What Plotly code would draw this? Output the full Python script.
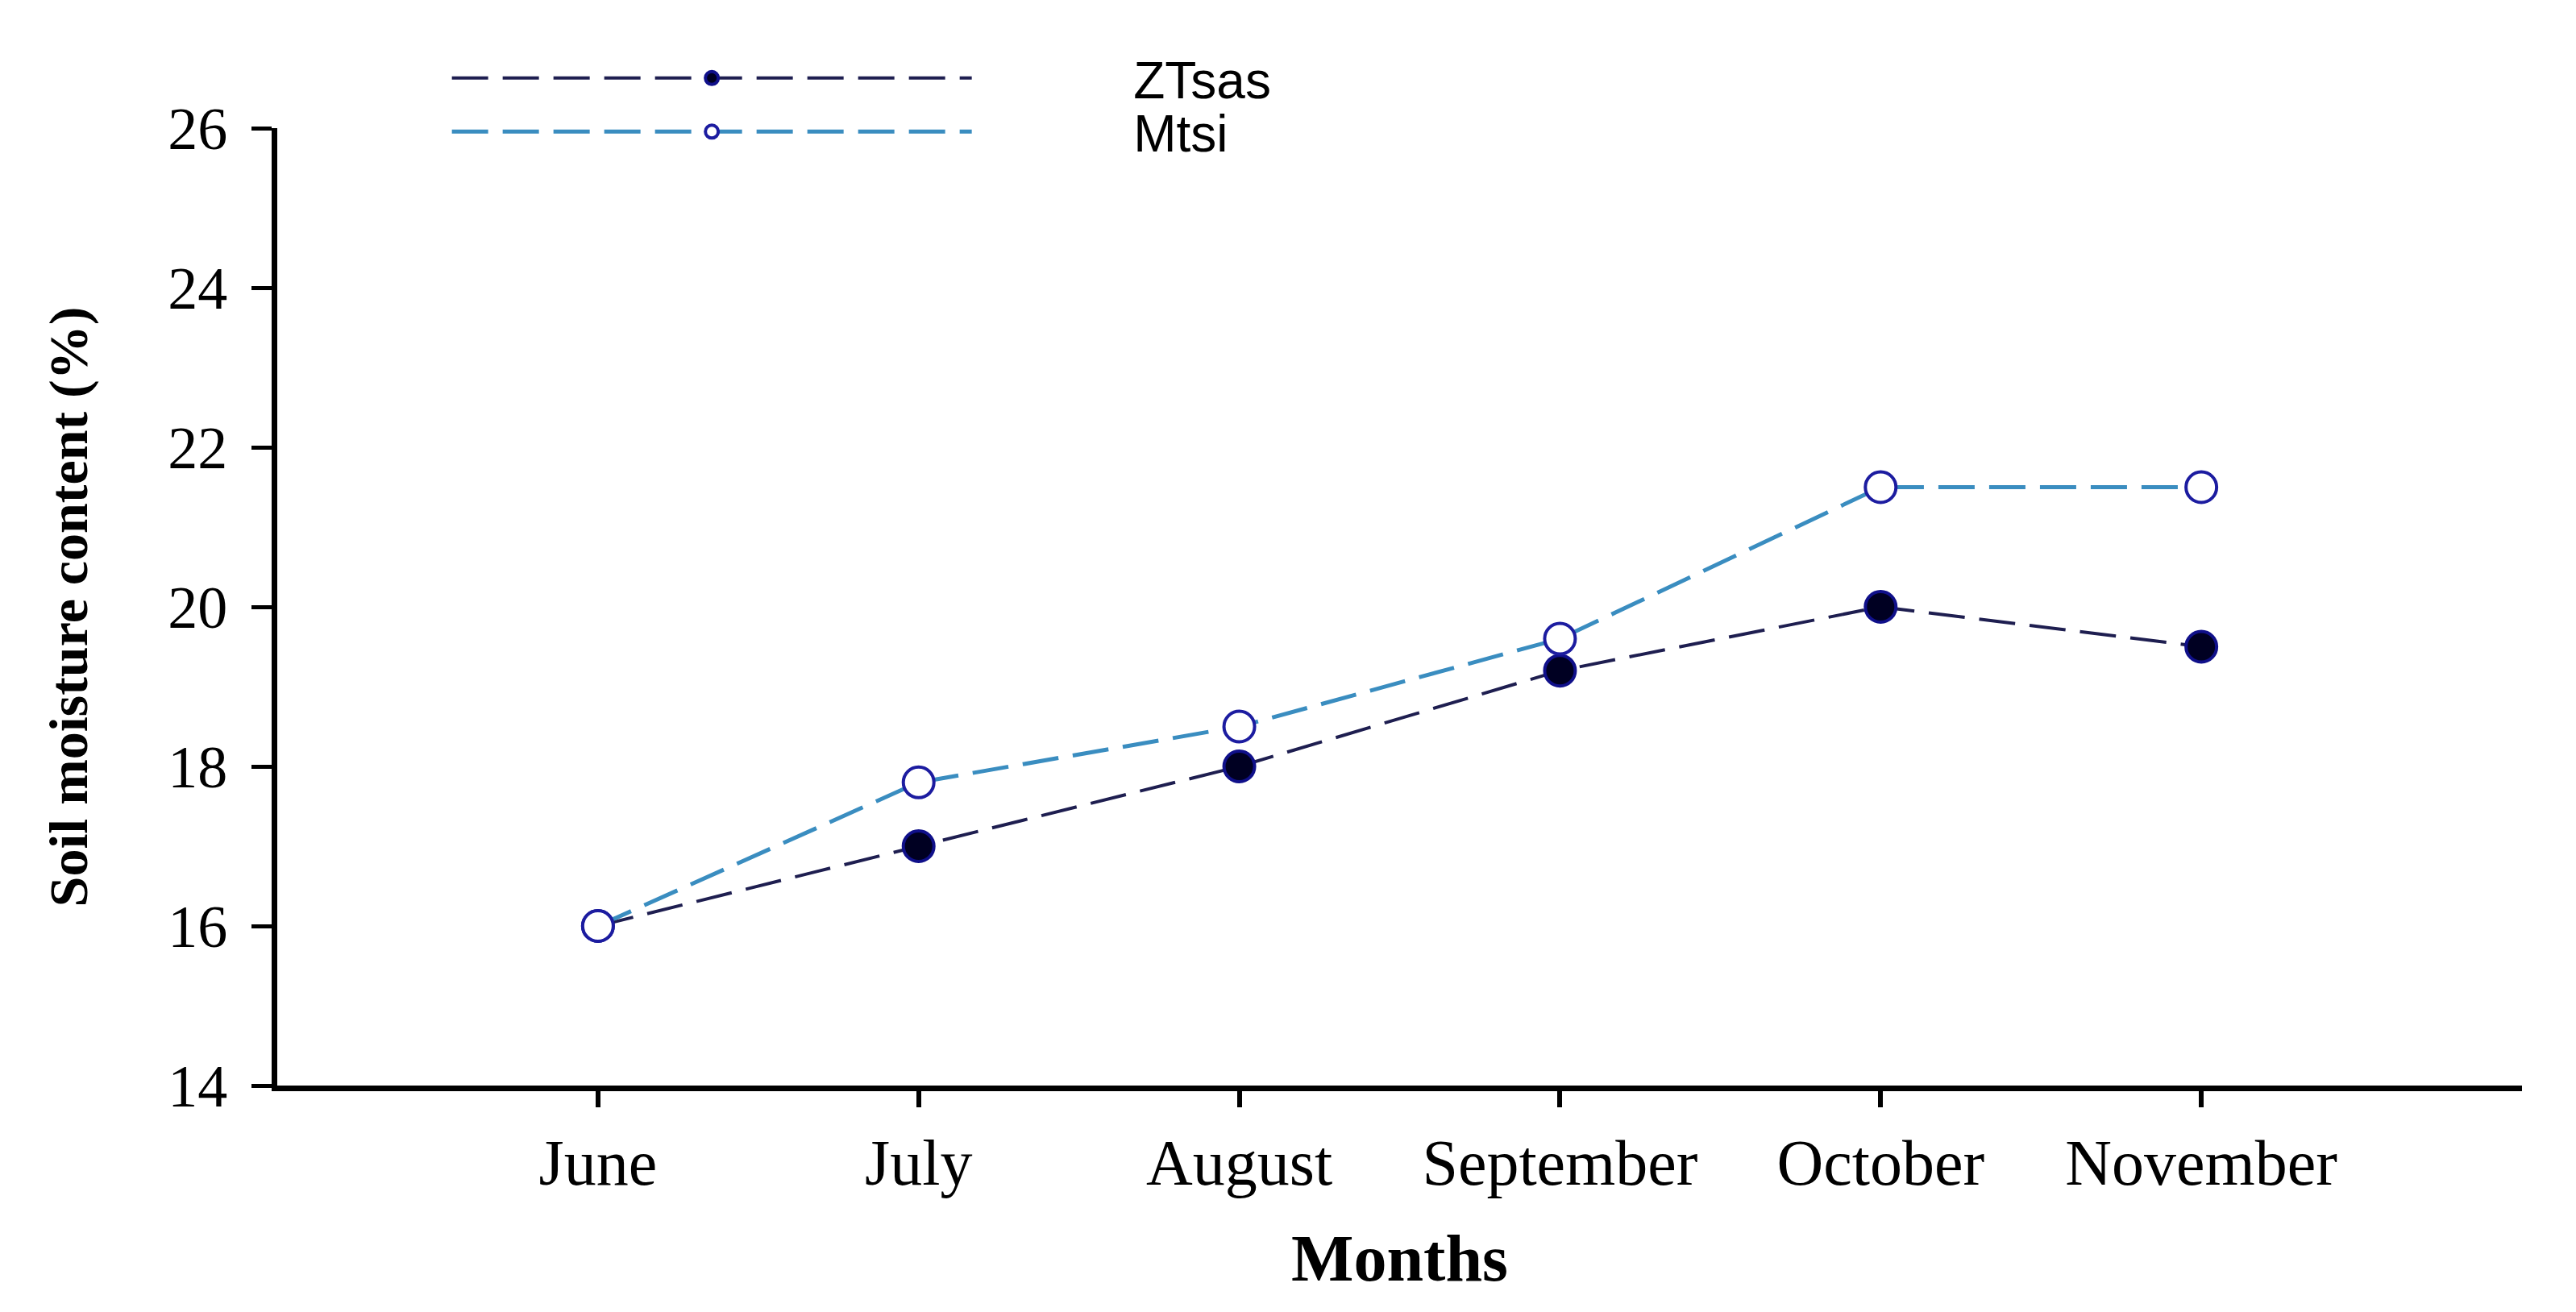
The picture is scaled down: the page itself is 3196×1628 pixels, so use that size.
import plotly.graph_objects as go

months = ["June", "July", "August", "September", "October", "November"]
ztsas = [16.0, 17.0, 18.0, 19.2, 20.0, 19.5]
mtsi = [16.0, 17.8, 18.5, 19.6, 21.5, 21.5]
y_ticks = [14, 16, 18, 20, 22, 24, 26]

pad = "\u00a0" * 11

fig = go.Figure()
fig.add_trace(go.Scatter(
    x=months, y=ztsas, name=pad + "ZTsas", mode="lines+markers",
    legend="legend",
    line=dict(color="#1e1e50", width=4, dash="45px,18px"),
    marker=dict(symbol="circle", size=38, color="#000022",
                line=dict(color="#10108a", width=4)),
))
fig.add_trace(go.Scatter(
    x=months, y=mtsi, name=pad + "Mtsi", mode="lines+markers",
    legend="legend2",
    line=dict(color="#3a8dc0", width=5, dash="45px,18px"),
    marker=dict(symbol="circle", size=38, color="white",
                line=dict(color="#1c1ca0", width=4)),
))

leg_common = dict(
    xanchor="left", yanchor="middle",
    font=dict(family="Liberation Sans", size=64, color="black"),
    itemwidth=645, bgcolor="rgba(0,0,0,0)",
)

fig.update_layout(
    width=3196, height=1628,
    margin=dict(l=336, r=75, t=151, b=289),
    paper_bgcolor="white", plot_bgcolor="white",
    showlegend=True,
    legend=dict(x=0.076, y=1.052, **leg_common),
    legend2=dict(x=0.076, y=0.996, **leg_common),
    xaxis=dict(
        type="category", range=[-1, 6],
        showline=True, linecolor="black", linewidth=7,
        ticks="outside", ticklen=20, tickwidth=6, tickcolor="black",
        showgrid=False, zeroline=False,
        tickfont=dict(family="Liberation Serif", size=80, color="black"),
        ticklabelstandoff=0,
        title=dict(text="<b>Months</b>", standoff=48,
                   font=dict(family="Liberation Serif", size=82, color="black")),
    ),
    yaxis=dict(
        range=[14, 26], tickvals=y_ticks,
        showline=True, linecolor="black", linewidth=7,
        ticks="outside", ticklen=25, tickwidth=5, tickcolor="black",
        showgrid=False, zeroline=False,
        tickfont=dict(family="Liberation Serif", size=74, color="black"),
        ticklabelstandoff=15,
        title=dict(text="<b>Soil moisture content (%)</b>", standoff=80,
                   font=dict(family="Liberation Serif", size=68, color="black")),
    ),
)

fig.write_html("out.html")
